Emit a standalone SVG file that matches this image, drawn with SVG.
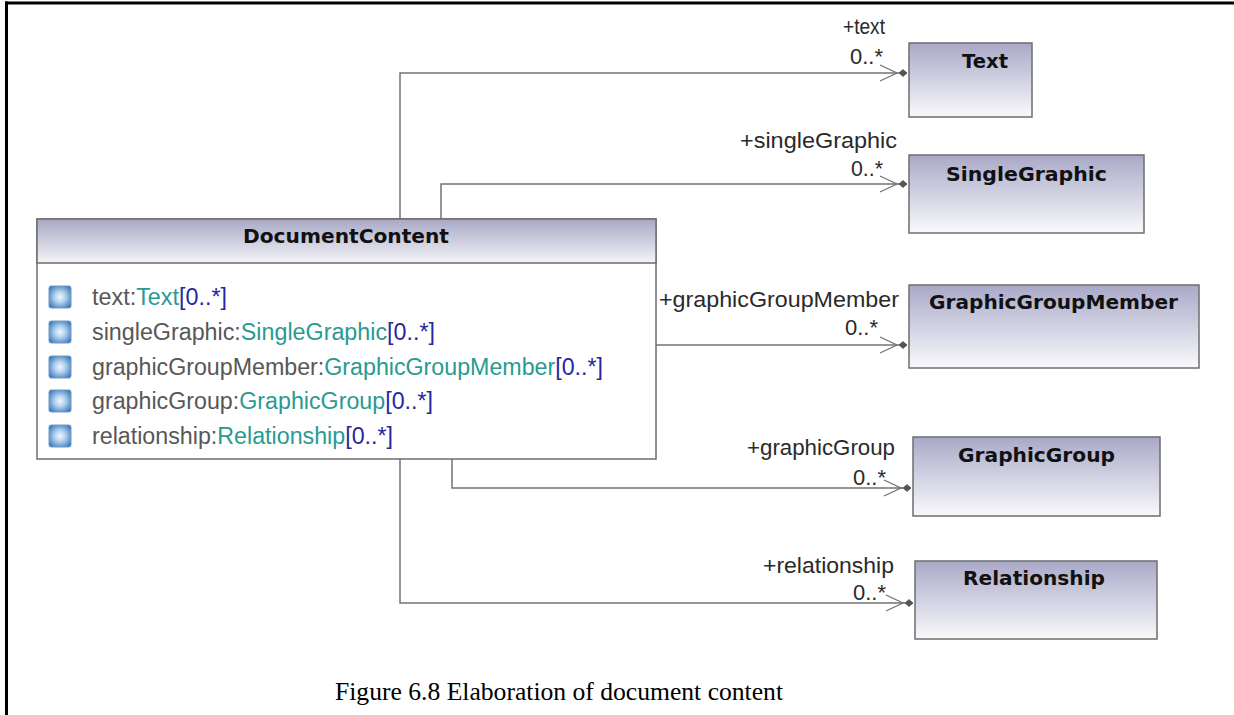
<svg xmlns="http://www.w3.org/2000/svg" width="1234" height="715" viewBox="0 0 1234 715">
<style>
.frame{stroke:#000;stroke-width:3;fill:none}
.box{stroke:#6e6e6e;stroke-width:1.5}
.conn{stroke:#737373;stroke-width:1.5;fill:none}
.title{font-family:"DejaVu Sans","Liberation Sans",sans-serif;font-weight:bold;font-size:20px;fill:#111}
.lbl{font-family:"Liberation Sans",Arial,sans-serif;font-size:22px;fill:#2a2a2a}
.attr{font-family:"Liberation Sans",Arial,sans-serif;font-size:23.5px}
.nm{fill:#575757}
.ty{fill:#2a9a92}
.mu{fill:#28289c}
.cap{font-family:"Liberation Serif","Times New Roman",serif;font-size:25.6px;fill:#000}
</style>
<defs>
<linearGradient id="gNode" x1="0" y1="0" x2="0" y2="1">
<stop offset="0" stop-color="#a9a9c8"/>
<stop offset="1" stop-color="#f9f9fc"/>
</linearGradient>
<linearGradient id="gHead" x1="0" y1="0" x2="0" y2="1">
<stop offset="0" stop-color="#a8a8c6"/>
<stop offset="1" stop-color="#f4f4f8"/>
</linearGradient>
<radialGradient id="gIcon" cx="0.5" cy="0.5" r="0.62">
<stop offset="0" stop-color="#f2f8fe"/>
<stop offset="0.45" stop-color="#a9cbea"/>
<stop offset="1" stop-color="#3a78b8"/>
</radialGradient>
<marker id="end" markerUnits="userSpaceOnUse" viewBox="-30 -10 32 20" refX="0" refY="0" markerWidth="32" markerHeight="20" orient="auto" overflow="visible">
<path d="M-27,-8 L-10,0 L-27,8" fill="none" stroke="#737373" stroke-width="1.3"/>
<path d="M0,0 L-4,-3.5 L-8,0 L-4,3.5 Z" fill="#555" stroke="#555" stroke-width="0.8"/>
</marker>
<symbol id="icon" viewBox="0 0 24 24">
<rect x="1" y="1" width="22" height="22" rx="2" fill="url(#gIcon)" stroke="#6f9ccc" stroke-width="1"/>
</symbol>
</defs>
<rect width="1234" height="715" fill="#fff"/>
<g id="frame">
<line class="frame" x1="5" y1="3" x2="1234" y2="3"/>
<line class="frame" x1="6.5" y1="1.5" x2="6.5" y2="715"/>
</g>
<g id="connectors">
<path class="conn" d="M400,219 V73 H907" marker-end="url(#end)"/>
<path class="conn" d="M441,219 V184 H907" marker-end="url(#end)"/>
<path class="conn" d="M656,345 H907" marker-end="url(#end)"/>
<path class="conn" d="M452,459 V488 H911" marker-end="url(#end)"/>
<path class="conn" d="M400,459 V603 H913" marker-end="url(#end)"/>
<text class="lbl" x="843" y="34" textLength="42" lengthAdjust="spacingAndGlyphs">+text</text>
<text class="lbl" x="850" y="64" textLength="33" lengthAdjust="spacingAndGlyphs">0..*</text>
<text class="lbl" x="740" y="148" textLength="157" lengthAdjust="spacingAndGlyphs">+singleGraphic</text>
<text class="lbl" x="851" y="176" textLength="32" lengthAdjust="spacingAndGlyphs">0..*</text>
<text class="lbl" x="659" y="307" textLength="240" lengthAdjust="spacingAndGlyphs">+graphicGroupMember</text>
<text class="lbl" x="845" y="335" textLength="33" lengthAdjust="spacingAndGlyphs">0..*</text>
<text class="lbl" x="747" y="455" textLength="148" lengthAdjust="spacingAndGlyphs">+graphicGroup</text>
<text class="lbl" x="853" y="485" textLength="33" lengthAdjust="spacingAndGlyphs">0..*</text>
<text class="lbl" x="763" y="573" textLength="131" lengthAdjust="spacingAndGlyphs">+relationship</text>
<text class="lbl" x="853" y="600" textLength="33" lengthAdjust="spacingAndGlyphs">0..*</text>
</g>
<g id="DocumentContent">
<rect class="box" x="37" y="219" width="619" height="240" fill="#fff"/>
<rect class="box" x="37" y="219" width="619" height="44" fill="url(#gHead)"/>
<text class="title" x="243" y="243" textLength="206" lengthAdjust="spacingAndGlyphs">DocumentContent</text>
<use href="#icon" x="48" y="285" width="24" height="24"/>
<use href="#icon" x="48" y="320" width="24" height="24"/>
<use href="#icon" x="48" y="355" width="24" height="24"/>
<use href="#icon" x="48" y="389" width="24" height="24"/>
<use href="#icon" x="48" y="424" width="24" height="24"/>
<text class="attr" x="92" y="305" textLength="135" lengthAdjust="spacingAndGlyphs"><tspan class="nm">text:</tspan><tspan class="ty">Text</tspan><tspan class="mu">[0..*]</tspan></text>
<text class="attr" x="92" y="340" textLength="343" lengthAdjust="spacingAndGlyphs"><tspan class="nm">singleGraphic:</tspan><tspan class="ty">SingleGraphic</tspan><tspan class="mu">[0..*]</tspan></text>
<text class="attr" x="92" y="375" textLength="511" lengthAdjust="spacingAndGlyphs"><tspan class="nm">graphicGroupMember:</tspan><tspan class="ty">GraphicGroupMember</tspan><tspan class="mu">[0..*]</tspan></text>
<text class="attr" x="92" y="409" textLength="341" lengthAdjust="spacingAndGlyphs"><tspan class="nm">graphicGroup:</tspan><tspan class="ty">GraphicGroup</tspan><tspan class="mu">[0..*]</tspan></text>
<text class="attr" x="92" y="444" textLength="301" lengthAdjust="spacingAndGlyphs"><tspan class="nm">relationship:</tspan><tspan class="ty">Relationship</tspan><tspan class="mu">[0..*]</tspan></text>
</g>
<g id="Text">
<rect class="box" x="909" y="43" width="123" height="74" fill="url(#gNode)"/>
<text class="title" x="962" y="68" textLength="46" lengthAdjust="spacingAndGlyphs">Text</text>
</g>
<g id="SingleGraphic">
<rect class="box" x="909" y="155" width="235" height="78" fill="url(#gNode)"/>
<text class="title" x="946" y="181" textLength="161" lengthAdjust="spacingAndGlyphs">SingleGraphic</text>
</g>
<g id="GraphicGroupMember">
<rect class="box" x="909" y="285" width="290" height="83" fill="url(#gNode)"/>
<text class="title" x="929" y="309" textLength="249" lengthAdjust="spacingAndGlyphs">GraphicGroupMember</text>
</g>
<g id="GraphicGroup">
<rect class="box" x="913" y="437" width="247" height="79" fill="url(#gNode)"/>
<text class="title" x="958" y="462" textLength="157" lengthAdjust="spacingAndGlyphs">GraphicGroup</text>
</g>
<g id="Relationship">
<rect class="box" x="915" y="561" width="242" height="78" fill="url(#gNode)"/>
<text class="title" x="963" y="585" textLength="142" lengthAdjust="spacingAndGlyphs">Relationship</text>
</g>
<text class="cap" x="335" y="700" textLength="448" lengthAdjust="spacingAndGlyphs">Figure 6.8 Elaboration of document content</text>
</svg>
